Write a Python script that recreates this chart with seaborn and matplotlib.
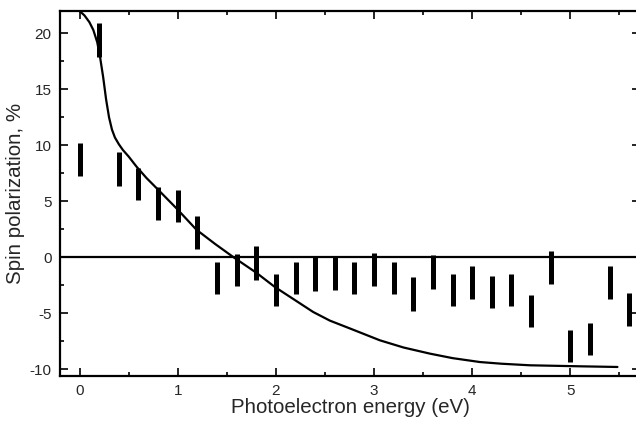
import matplotlib
matplotlib.use("Agg")
import matplotlib.pyplot as plt
import seaborn as sns
from matplotlib.ticker import MultipleLocator

# measured spin polarization (bars)
energy = [0.0, 0.2, 0.4, 0.6, 0.8, 1.0, 1.2, 1.4, 1.6, 1.8,
          2.0, 2.2, 2.4, 2.6, 2.8, 3.0, 3.2, 3.4, 3.6, 3.8,
          4.0, 4.2, 4.4, 4.6, 4.8, 5.0, 5.2, 5.4, 5.6]
polarization = [8.75, 19.4, 7.9, 6.55, 4.8, 4.6, 2.2, -1.85, -1.13, -0.5,
                -2.9, -1.85, -1.5, -1.45, -1.85, -1.1, -1.85, -3.25, -1.3, -2.9,
                -2.25, -3.1, -2.9, -4.8, -0.9, -7.9, -7.3, -2.25, -4.65]
pol_err = [1.45, 1.5, 1.5, 1.45, 1.45, 1.45, 1.45, 1.4, 1.45, 1.5,
           1.45, 1.45, 1.5, 1.45, 1.45, 1.5, 1.45, 1.5, 1.5, 1.45,
           1.45, 1.45, 1.45, 1.45, 1.45, 1.45, 1.45, 1.45, 1.45]

# calculated curve
calc_energy = [0.0, 0.05, 0.1, 0.14, 0.18, 0.21, 0.24, 0.27, 0.30, 0.33,
               0.36, 0.40, 0.44, 0.50, 0.58, 0.68, 0.79, 0.99, 1.19, 1.38,
               1.57, 1.8, 1.99, 2.2, 2.38, 2.55, 2.76, 3.06, 3.3, 3.57,
               3.8, 4.08, 4.3, 4.59, 5.10, 5.48]
calc_pol = [22.0, 21.6, 21.0, 20.3, 19.2, 17.8, 16.1, 14.1, 12.5, 11.4,
            10.7, 10.1, 9.6, 9.0, 8.1, 7.1, 6.13, 4.35, 2.47, 1.2,
            0.0, -1.37, -2.65, -3.85, -4.88, -5.65, -6.37, -7.41, -8.05, -8.6,
            -9.0, -9.35, -9.5, -9.64, -9.73, -9.79]

sns.set_style("ticks")
plt.rcParams['font.family'] = ['Liberation Sans', 'DejaVu Sans']
plt.rcParams['axes.unicode_minus'] = False

fig = plt.figure(figsize=(6.36, 4.23), dpi=100)
ax = fig.add_axes([0.0943, 0.111, 0.912, 0.863])

ax.axhline(0, color='black', lw=1.6, zorder=1)
sns.lineplot(x=calc_energy, y=calc_pol, sort=False, color='black', lw=1.6, ax=ax)
ax.errorbar(energy, polarization, yerr=pol_err, fmt='none', ecolor='black',
            elinewidth=3.6, capsize=0, zorder=3)

ax.set_xlim(-0.2, 5.71)
ax.set_ylim(-10.6, 22)
ax.xaxis.set_major_locator(MultipleLocator(1))
ax.xaxis.set_minor_locator(MultipleLocator(0.5))
ax.yaxis.set_major_locator(MultipleLocator(5))
ax.yaxis.set_minor_locator(MultipleLocator(2.5))
ax.tick_params(which='both', direction='in', top=True, right=True,
               labelsize=11, width=1.2, color='black', pad=6)
ax.tick_params(which='major', length=6)
ax.tick_params(which='minor', length=3)
for s in ax.spines.values():
    s.set_linewidth(1.6)
    s.set_color('black')

ax.set_xlabel("Photoelectron energy (eV)", fontsize=14.8, labelpad=0)
ax.set_ylabel("Spin polarization, %", fontsize=14.8, labelpad=3)

fig.savefig("out.png", dpi=100)
